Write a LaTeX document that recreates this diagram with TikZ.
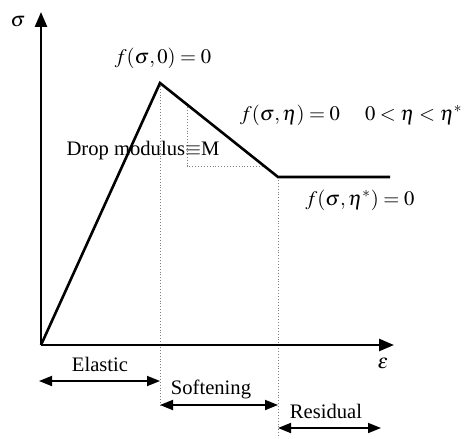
\documentclass[tikz,border=0pt]{standalone}
\usepackage{mathptmx}
\usepackage{fontspec}
\setmainfont{Liberation Serif}
\usetikzlibrary{arrows.meta}

\begin{document}
\begin{tikzpicture}[x=0.5pt, y=-0.5pt,
    curve/.style={line width=1.3pt},
    axis/.style={line width=1.3pt, -{Triangle[length=7.5pt, width=6pt]}},
    guide/.style={densely dotted, gray, line width=0.45pt},
    span/.style={line width=0.9pt, {Triangle[length=6.5pt, width=5pt]}-{Triangle[length=6.5pt, width=5pt]}},
    lbl/.style={font=\fontsize{10.3}{12}\selectfont, inner sep=0pt}]
\useasboundingbox (0,0) rectangle (464,438);
% stress-strain path
\coordinate (O) at (41,345);
\coordinate (peak) at (160,83);
\coordinate (soft) at (278,177);
\coordinate (res) at (390,177);
\coordinate (ytip) at (41,12);
\coordinate (xtip) at (394,345);
% dotted guides
\coordinate (peakfoot) at (160,405);
\coordinate (softfoot) at (278,438);
\coordinate (stepA) at (187,104.5);
\coordinate (stepB) at (187,166);
\coordinate (stepC) at (264,166);
\draw[guide] (peak) -- (peakfoot);
\draw[guide] (soft) -- (softfoot);
\draw[guide] (stepA) -- (stepB) -- (stepC);
% axes
\draw[axis] (O) -- (ytip);
\draw[axis] (O) -- (xtip);
\draw[curve, line join=miter] (O) -- (peak) -- (soft) -- (res);
% axis labels
\node[lbl] (sig) at (18,22) {$\sigma$};
\node[lbl] (eps) at (383,363) {$\varepsilon$};
% yield functions
\node[lbl] (f0) at (163,58) {$f(\sigma,0)=0$};
\node[lbl] (feta) at (290,115) {$f(\sigma,\eta)=0$};
\node[lbl, anchor=east] (range) at (463,115) {$0<\eta<\eta^{*}$};
\node[lbl] (fres) at (360,200) {$f(\sigma,\eta^{*})=0$};
\node[lbl] (drop) at (143,151) {Drop modulus$\equiv$M};
% stages
\coordinate (elL) at (39,381);
\coordinate (elR) at (160,381);
\coordinate (soL) at (160,405);
\coordinate (soR) at (278,405);
\coordinate (reL) at (278,428);
\coordinate (reR) at (381,428);
\draw[span] (elL) -- (elR);
\draw[span] (soL) -- (soR);
\draw[span] (reL) -- (reR);
\node[lbl] (elastic) at (100,364) {Elastic};
\node[lbl] (softening) at (211,389) {Softening};
\node[lbl] (residual) at (326,411.5) {Residual};
\end{tikzpicture}
\end{document}
